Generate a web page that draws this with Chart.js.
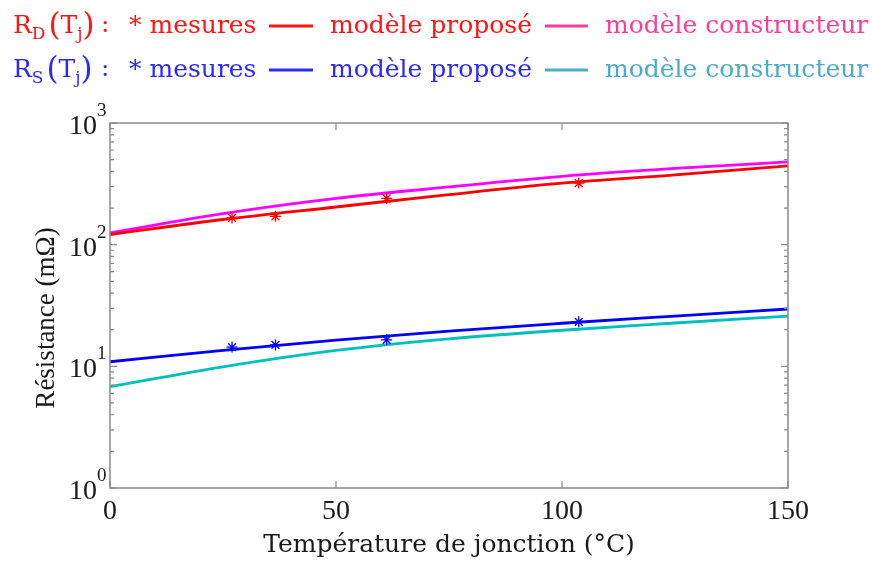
<!DOCTYPE html>
<html>
<head>
<meta charset="utf-8">
<script src="https://cdn.jsdelivr.net/npm/chart.js@4.4.0/dist/chart.umd.min.js"></script>
<style>
  html, body { margin: 0; padding: 0; background: #fff; }
  #wrap { position: relative; width: 872px; height: 563px; }
</style>
</head>
<body>
<div id="wrap"><canvas id="chart" width="872" height="563"></canvas></div>
<script>
// Données (résistance en mΩ, température en °C)
const temps = [0, 25, 50, 75, 100, 125, 150];
const rdPropose = [121, 161, 204, 258, 320, 374, 444];
const rdConstructeur = [125, 180, 240, 298, 364, 423, 479];
const rsPropose = [10.9, 13.5, 16.4, 19.5, 22.6, 25.9, 29.6];
const rsConstructeur = [6.8, 9.9, 13.5, 16.8, 19.8, 22.7, 25.9];

const tempsMesures = [27, 36.6, 61.2, 103.7];
const rdMesures = [166, 171, 240, 321];
const rsMesures = [14.4, 15.0, 16.5, 23.2];

const xTicks = [0, 50, 100, 150];
const yDecades = [1, 10, 100, 1000];

const colors = {
    red: '#ff0000',
    magenta: '#ff00ff',
    blue: '#0000ff',
    cyan: '#00bfbf',
    legendRed: '#ff1414',
    legendPink: '#ff3d96',
    legendBlue: '#2a2aff',
    legendTeal: '#4aacc6',
    axis: '#8a8a8a'
};

function toPoints(xs, ys) {
    return xs.map((x, i) => ({ x: x, y: ys[i] }));
}

function lineSet(label, data, color) {
    return {
        label: label,
        data: toPoints(temps, data),
        showLine: true,
        borderColor: color,
        backgroundColor: color,
        borderWidth: 2.8,
        pointRadius: 0,
        cubicInterpolationMode: 'monotone'
    };
}

function starSet(label, data, color) {
    return {
        label: label,
        data: toPoints(tempsMesures, data),
        showLine: false,
        pointStyle: 'star',
        pointRadius: 5.5,
        borderColor: color,
        backgroundColor: color,
        borderWidth: 1.3
    };
}

// Cadre, graduations internes, étiquettes 10^n et titre vertical
const framePlugin = {
    id: 'frame',
    afterDraw(chart) {
        const { ctx, chartArea: a, scales: { x, y } } = chart;
        ctx.save();
        ctx.strokeStyle = colors.axis;
        ctx.lineWidth = 1.5;
        ctx.strokeRect(a.left, a.top, a.right - a.left, a.bottom - a.top);

        ctx.lineWidth = 1.2;
        ctx.beginPath();
        xTicks.forEach(v => {
            const px = x.getPixelForValue(v);
            ctx.moveTo(px, a.bottom); ctx.lineTo(px, a.bottom - 7);
            ctx.moveTo(px, a.top); ctx.lineTo(px, a.top + 7);
        });
        yDecades.forEach((d, i) => {
            const py = y.getPixelForValue(d);
            ctx.moveTo(a.left, py); ctx.lineTo(a.left + 7, py);
            ctx.moveTo(a.right, py); ctx.lineTo(a.right - 7, py);
            if (i < yDecades.length - 1) {
                for (let k = 2; k <= 9; k++) {
                    const pm = y.getPixelForValue(d * k);
                    ctx.moveTo(a.left, pm); ctx.lineTo(a.left + 4, pm);
                    ctx.moveTo(a.right, pm); ctx.lineTo(a.right - 4, pm);
                }
            }
        });
        ctx.stroke();

        ctx.fillStyle = '#1a1a1a';
        ctx.textBaseline = 'alphabetic';
        yDecades.forEach(d => {
            const py = y.getPixelForValue(d);
            ctx.font = '28px "Liberation Serif"';
            ctx.textAlign = 'right';
            ctx.fillText('10', a.left - 13, py + 11);
            ctx.font = '19px "Liberation Serif"';
            ctx.textAlign = 'left';
            ctx.fillText(String(Math.round(Math.log10(d))), a.left - 13, py - 7);
        });

        ctx.translate(47, 318);
        ctx.rotate(-Math.PI / 2);
        ctx.textAlign = 'center';
        ctx.textBaseline = 'middle';
        ctx.font = '27px "Liberation Serif"';
        ctx.fillText('Résistance (mΩ)', 0, 0);
        ctx.restore();
    }
};

// Légende en deux lignes au-dessus du graphique
const legendRows = [
    { sub: 'D', baseline: 33, text: colors.legendRed, c1: colors.legendRed, c2: colors.legendPink },
    { sub: 'S', baseline: 77, text: colors.legendBlue, c1: colors.legendBlue, c2: colors.legendTeal }
];

const legendPlugin = {
    id: 'topLegend',
    afterDraw(chart) {
        const ctx = chart.ctx;
        ctx.save();
        ctx.textAlign = 'left';
        ctx.textBaseline = 'alphabetic';
        legendRows.forEach(row => {
            const b = row.baseline;
            let cx = 13;
            const piece = (txt, size, dy, color) => {
                ctx.font = size + 'px "DejaVu Serif"';
                ctx.fillStyle = color;
                ctx.fillText(txt, cx, b + dy);
                cx += ctx.measureText(txt).width;
            };
            piece('R', 25, 0, row.text);
            piece(row.sub, 17, 6, row.text);
            cx += 3;
            piece('(', 31, 2, row.text);
            piece('T', 25, 0, row.text);
            piece('j', 17, 6, row.text);
            piece(')', 31, 2, row.text);
            cx = 101;
            piece(':', 25, -1, row.text);
            cx = 129;
            piece('* mesures', 25, 0, row.text);
            cx = 330;
            piece('modèle proposé', 25, 0, row.text);
            cx = 605;
            piece('modèle constructeur', 25, 0, row.c2);

            ctx.lineWidth = 3;
            ctx.strokeStyle = row.c1;
            ctx.beginPath();
            ctx.moveTo(269, b - 7); ctx.lineTo(313, b - 7);
            ctx.stroke();
            ctx.strokeStyle = row.c2;
            ctx.beginPath();
            ctx.moveTo(545, b - 7); ctx.lineTo(588, b - 7);
            ctx.stroke();
        });
        ctx.restore();
    }
};

const chart = new Chart(document.getElementById('chart').getContext('2d'), {
    type: 'scatter',
    data: {
        datasets: [
            starSet('RD mesures', rdMesures, colors.red),
            starSet('RS mesures', rsMesures, colors.blue),
            lineSet('RD modèle proposé', rdPropose, colors.red),
            lineSet('RD modèle constructeur', rdConstructeur, colors.magenta),
            lineSet('RS modèle proposé', rsPropose, colors.blue),
            lineSet('RS modèle constructeur', rsConstructeur, colors.cyan)
        ]
    },
    options: {
        responsive: false,
        animation: false,
        devicePixelRatio: 1,
        layout: { padding: { top: 123, right: 84, left: 0, bottom: 0 } },
        plugins: { legend: { display: false }, tooltip: { enabled: false } },
        scales: {
            x: {
                type: 'linear',
                min: 0,
                max: 150,
                afterFit(scale) { scale.height = 75; },
                afterBuildTicks(scale) { scale.ticks = xTicks.map(v => ({ value: v })); },
                grid: { display: false, drawTicks: false },
                border: { display: false },
                ticks: {
                    padding: 7,
                    color: '#1a1a1a',
                    font: { family: 'Liberation Serif', size: 28 }
                },
                title: {
                    display: true,
                    text: 'Température de jonction (°C)',
                    color: '#1a1a1a',
                    font: { family: 'DejaVu Serif', size: 25 },
                    padding: { top: 0, bottom: 3 }
                }
            },
            y: {
                type: 'logarithmic',
                min: 1,
                max: 1000,
                afterFit(scale) { scale.width = 110; },
                grid: { display: false, drawTicks: false },
                border: { display: false },
                ticks: { display: false },
                title: { display: false }
            }
        }
    },
    plugins: [framePlugin, legendPlugin]
});
</script>
</body>
</html>
